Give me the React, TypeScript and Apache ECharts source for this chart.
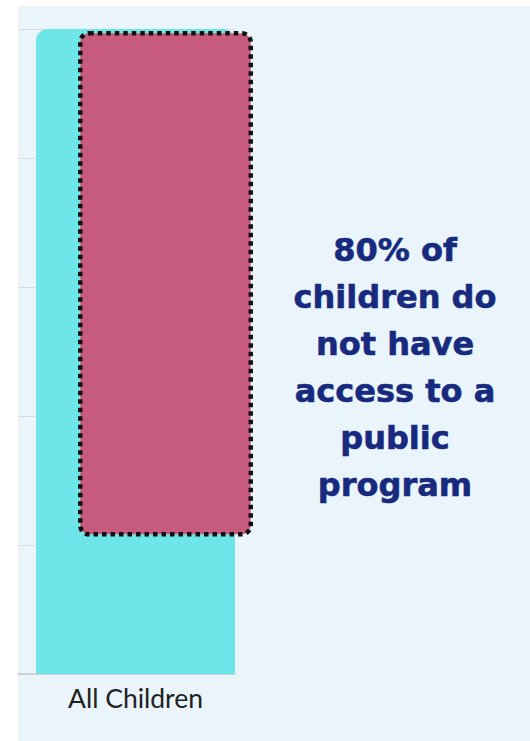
import React, { useEffect, useRef } from "react";
import * as echarts from "echarts";

const categories = ["All Children"];
const allChildrenValues = [100];
const noAccessBase = [21.3];
const noAccessValues = [78.4];
const yTicks = [0, 20, 40, 60, 80, 100];
const calloutLines = ["80% of", "children do", "not have", "access to a", "public", "program"];

export default function App() {
  const ref = useRef<HTMLDivElement>(null);
  useEffect(() => {
    if (!ref.current) return;
    const chart = echarts.init(ref.current, undefined, { renderer: "svg" });
    const top = 29;
    const bottom = 741 - 674;
    chart.setOption({
      animation: false,
      backgroundColor: "#ffffff",
      graphic: [
        {
          type: "rect",
          z: -10,
          silent: true,
          shape: { x: 18, y: 6, width: 530 - 18, height: 741 - 6 },
          style: { fill: "#e9f4fb" },
        },
        {
          type: "text",
          z: 100,
          x: 395,
          y: 367,
          style: {
            text: calloutLines.join("\n"),
            fill: "#172a7e",
            font: "bold 32px 'DejaVu Sans'",
            lineHeight: 47,
            align: "center",
            verticalAlign: "middle",
            stroke: "#172a7e",
            lineWidth: 0.6,
          },
        },
      ],
      grid: [
        { left: 18, right: 530 - 235, top, bottom },
        { left: 36, right: 530 - 235, top, bottom },
        { left: 78, right: 530 - 253, top, bottom },
      ],
      xAxis: [
        {
          type: "category",
          gridIndex: 0,
          data: categories,
          axisLine: { show: true, lineStyle: { color: "#c3cad0", width: 1.5 } },
          axisTick: { show: false },
          axisLabel: { show: false },
        },
        {
          type: "category",
          gridIndex: 1,
          data: categories,
          axisLine: { show: false },
          axisTick: { show: false },
          axisLabel: { color: "#222222", fontSize: 26.5, fontFamily: "Lato", margin: 10 },
        },
        {
          type: "category",
          gridIndex: 2,
          data: categories,
          show: false,
        },
      ],
      yAxis: [
        {
          type: "value",
          gridIndex: 0,
          min: yTicks[0],
          max: yTicks[yTicks.length - 1],
          interval: yTicks[1] - yTicks[0],
          axisLabel: { show: false },
          axisLine: { show: false },
          axisTick: { show: false },
          splitLine: { show: true, lineStyle: { color: "#d4dbe1", width: 1 } },
        },
        {
          type: "value",
          gridIndex: 1,
          min: yTicks[0],
          max: yTicks[yTicks.length - 1],
          show: false,
          splitLine: { show: false },
        },
        {
          type: "value",
          gridIndex: 2,
          min: yTicks[0],
          max: yTicks[yTicks.length - 1],
          show: false,
          splitLine: { show: false },
        },
      ],
      series: [
        {
          type: "bar",
          xAxisIndex: 1,
          yAxisIndex: 1,
          data: allChildrenValues,
          barWidth: "100%",
          itemStyle: { color: "#6ee5e8", borderRadius: [12, 12, 0, 0] },
          z: 2,
        },
        {
          type: "bar",
          xAxisIndex: 2,
          yAxisIndex: 2,
          stack: "noAccess",
          data: noAccessBase,
          barWidth: "100%",
          itemStyle: { color: "transparent" },
          z: 3,
        },
        {
          type: "bar",
          xAxisIndex: 2,
          yAxisIndex: 2,
          stack: "noAccess",
          data: noAccessValues,
          barWidth: "100%",
          itemStyle: {
            color: "#c75b7e",
            borderColor: "#111111",
            borderWidth: 4.5,
            borderType: [4.5, 4],
            borderRadius: 9,
          },
          z: 4,
        },
      ],
    });
    return () => chart.dispose();
  }, []);
  return (
    <div
      ref={ref}
      style={{ position: "fixed", left: 0, top: 0, width: 530, height: 741 }}
    />
  );
}
